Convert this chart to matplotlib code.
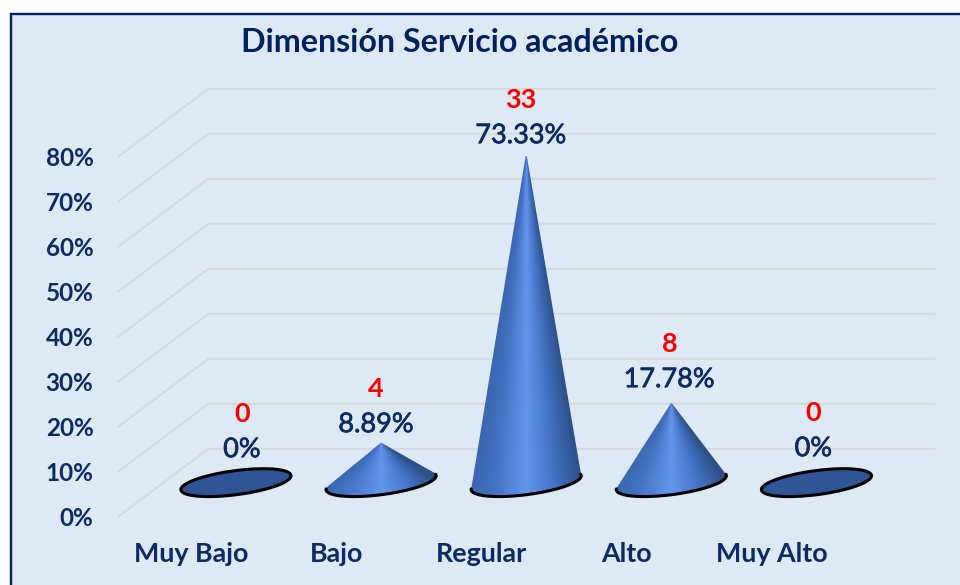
#!/usr/bin/env python3

import matplotlib
matplotlib.use("Agg")
import matplotlib.pyplot as plt
import matplotlib.patheffects as pe
import numpy as np
from matplotlib.colors import LinearSegmentedColormap
from matplotlib.patches import Polygon, Rectangle

categories = ["Muy Bajo", "Bajo", "Regular", "Alto", "Muy Alto"]
percent = [0, 8.89, 73.33, 17.78, 0]
percent_labels = ["0%", "8.89%", "73.33%", "17.78%", "0%"]
counts = [0, 4, 33, 8, 0]
yticks = [0, 10, 20, 30, 40, 50, 60, 70, 80]
title = "Dimensión Servicio académico"

W, H = 960, 585
NAVY = "#0B2A66"
BG = "#DDE9F5"
GRID = "#D9D9D9"

# front plane of the fake 3d box, in pixels
LEFT, RIGHT = 118.4, 844.0
Y0, Y80 = 516.5, 156.5
DEPTH_X, DEPTH_Y = 90, 67.7
A, B, TILT = 55.5, 12.0, np.radians(7.5)

# label nudges in pixels
label_dx = [6, -5, -5, -2, -3]
label_gap = [33, 18, 17, 23, 34]
count_gap = 36

px_x = (RIGHT - LEFT) / 5
px_y = (Y0 - Y80) / 80

plt.rcParams["font.family"] = ["Lato", "DejaVu Sans"]

fig = plt.figure(figsize=(W / 100, H / 100), dpi=100, facecolor="white")
fig.add_artist(Rectangle((10.5 / W, -0.05), 1.1, 1 + 0.05 - 14.5 / H,
                         transform=fig.transFigure, facecolor=BG,
                         edgecolor="#002060", linewidth=1.7, zorder=-1))

ax = fig.add_axes([LEFT / W, 1 - Y0 / H, (RIGHT - LEFT) / W, (Y0 - Y80) / H])
ax.patch.set_alpha(0)
for s in ax.spines.values():
	s.set_visible(False)
ax.set_xlim(-0.5, 4.5)
ax.set_ylim(0, 80)

dx = DEPTH_X / px_x
dy = DEPTH_Y / px_y

# walls
for p in yticks:
	ax.plot([-0.5, -0.5 + dx, 4.5 + dx], [p, p + dy, p + dy], color=GRID,
	        lw=1.5, clip_on=False, zorder=1, solid_joinstyle="round")

ax.set_xticks(range(5), categories)
ax.set_yticks(yticks, [f"{p}%" for p in yticks])
ax.tick_params(axis="x", length=0, pad=18.5, labelsize=19.4, labelcolor=NAVY)
ax.tick_params(axis="y", length=0, pad=18, labelsize=17.5, labelcolor=NAVY)
for t in ax.get_xticklabels() + ax.get_yticklabels():
	t.set_fontweight("bold")

shade = LinearSegmentedColormap.from_list("cone", [
	(0.00, "#3A66AD"), (0.22, "#4472C4"), (0.50, "#6496EE"),
	(0.75, "#4472C4"), (1.00, "#2C5088")])

def ellipse(t):
	return (A * np.cos(t) * np.cos(TILT) - B * np.sin(t) * np.sin(TILT),
	        A * np.cos(t) * np.sin(TILT) + B * np.sin(t) * np.cos(TILT))

t = np.linspace(0, 2 * np.pi, 361)[:-1]
ex, ey = ellipse(t)
# front rim only
rx, ry = ellipse(np.linspace(np.pi - 0.08, 2 * np.pi + 0.1, 200))

for i, p in enumerate(percent):
	# centre of the base sits half way into the box
	cx = i + dx / 2
	cy = dy / 2
	if p == 0:
		ax.add_patch(Polygon(np.c_[cx + ex / px_x, cy + ey / px_y], closed=True,
		                     facecolor="#2F5597", edgecolor="black", lw=2.2,
		                     clip_on=False, zorder=3))
	else:
		h = p * px_y
		# tangent points seen from the apex
		ang = np.arctan2(ex, h - ey)
		il, ir = np.argmin(ang), np.argmax(ang)
		k = il
		arc = [il]
		while k != ir:
			k = (k + 1) % len(t)
			arc.append(k)
		arc = np.array(arc)
		outline = np.r_[[[cx, cy + p]],
		                np.c_[cx + ex[arc] / px_x, cy + ey[arc] / px_y]]
		cone = Polygon(outline, closed=True, facecolor="none", edgecolor="none",
		               zorder=3, clip_on=False)
		ax.add_patch(cone)
		# shading follows the cone, so it narrows up to the tip
		gx, gy = np.meshgrid(np.linspace(-A - 6, A + 6, 240),
		                     np.linspace(h, -B - 8, 400))
		half = np.maximum(A * np.clip((h - gy) / h, 0, None), 0.5)
		u = np.clip(gx / half, -1, 1)
		im = ax.imshow((u + 1) / 2, cmap=shade, vmin=0, vmax=1, aspect="auto",
		               extent=[cx - (A + 6) / px_x, cx + (A + 6) / px_x,
		                       cy - (B + 8) / px_y, cy + p],
		               interpolation="bilinear", zorder=3)
		im.set_clip_box(None)
		im.set_clip_path(cone)
		ax.plot(cx + rx / px_x, cy + ry / px_y, color="black", lw=2.2,
		        clip_on=False, zorder=4, solid_capstyle="round")

	pos = (cx, cy + p)
	gap = label_gap[i]
	ax.annotate(percent_labels[i], pos, xytext=(label_dx[i] * 0.72, gap * 0.72),
	            textcoords="offset points", ha="center", va="center",
	            fontsize=19.5, color=NAVY, zorder=5, annotation_clip=False,
	            path_effects=[pe.withStroke(linewidth=0.5, foreground=NAVY)])
	ax.annotate(str(counts[i]), pos,
	            xytext=(label_dx[i] * 0.72, (gap + count_gap) * 0.72),
	            textcoords="offset points", ha="center", va="center",
	            fontsize=19.5, fontweight="bold", color="#FF0000", zorder=5,
	            annotation_clip=False)

ax.set_xlim(-0.5, 4.5)
ax.set_ylim(0, 80)

fig.text(460 / W, 1 - 43 / H, title, ha="center", va="center", fontsize=23.2,
         fontweight="bold", color="#002060")

fig.savefig("out.png", dpi=100, facecolor="white")
